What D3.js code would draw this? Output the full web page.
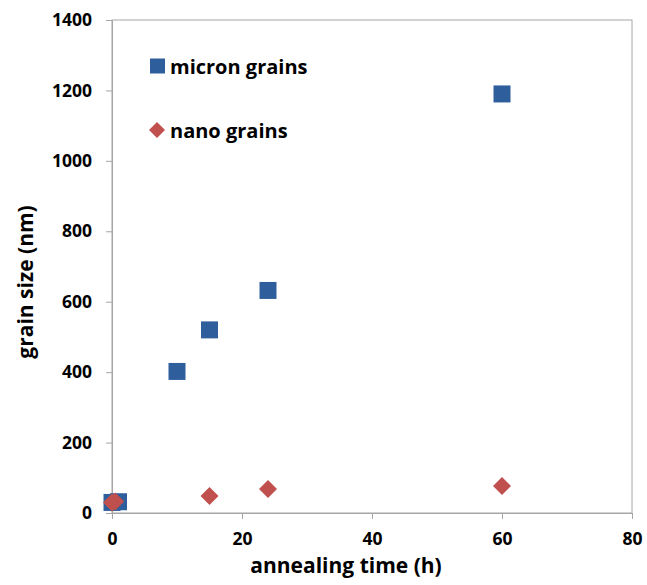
<!DOCTYPE html>
<html>
<head>
<meta charset="utf-8">
<script src="https://cdn.jsdelivr.net/npm/d3@7"></script>
<style>
  html, body { margin: 0; padding: 0; background: #fff; }
  svg text { font-family: "Open Sans", "Liberation Sans", sans-serif; font-weight: bold; fill: #000; }
</style>
</head>
<body>
<svg id="chart" width="647" height="585"></svg>
<script>
// Grain size vs annealing time
const micronTime = [0, 1, 10, 15, 24, 60];
const micronSize = [30, 32, 402, 520, 632, 1190];
const nanoTime = [0, 0.5, 15, 24, 60];
const nanoSize = [30, 33, 48, 68, 77];
const xTicks = [0, 20, 40, 60, 80];
const yTicks = [0, 200, 400, 600, 800, 1000, 1200, 1400];
const seriesNames = ["micron grains", "nano grains"];

const svg = d3.select("#chart");
const m = { left: 112, right: 15, top: 20, bottom: 72 };
const W = 647, H = 585;

const x = d3.scaleLinear().domain([0, 80]).range([m.left, W - m.right]);
const y = d3.scaleLinear().domain([0, 1400]).range([H - m.bottom, m.top]);

const axisColor = "#a6a6a6";

// plot frame
svg.append("rect")
  .attr("x", x(0)).attr("y", y(1400))
  .attr("width", x(80) - x(0)).attr("height", y(0) - y(1400))
  .attr("fill", "none").attr("stroke", axisColor).attr("stroke-width", 1);

const xAxis = svg.append("g")
  .attr("transform", `translate(0,${y(0)})`)
  .call(d3.axisBottom(x).tickValues(xTicks).tickSize(6).tickPadding(14).tickFormat(d3.format("d")));
const yAxis = svg.append("g")
  .attr("transform", `translate(${x(0)},0)`)
  .call(d3.axisLeft(y).tickValues(yTicks).tickSize(6).tickPadding(14).tickFormat(d3.format("d")));

[xAxis, yAxis].forEach(g => {
  g.select(".domain").attr("stroke", axisColor);
  g.selectAll(".tick line").attr("stroke", axisColor);
  g.selectAll(".tick text").style("font-size", "17.5px").style("font-family", "'Open Sans', sans-serif").style("font-weight", "bold");
});

// axis titles
svg.append("text")
  .attr("x", 346).attr("y", 573)
  .attr("text-anchor", "middle").style("font-size", "21px")
  .text("annealing time (h)");
svg.append("text")
  .attr("transform", `translate(33,282) rotate(-90)`)
  .attr("text-anchor", "middle").style("font-size", "21px")
  .text("grain size (nm)");

const blue = "#2f5e9c", red = "#c0504d";
const sq = d3.symbol().type(d3.symbolSquare).size(17 * 17);
// a square rotated 45° for the diamond markers
const diamond = r => `M0,${-r}L${r},0L0,${r}L${-r},0Z`;

const micron = micronTime.map((t, i) => ({ t, v: micronSize[i] }));
const nano = nanoTime.map((t, i) => ({ t, v: nanoSize[i] }));

svg.append("g").selectAll("path").data(micron).join("path")
  .attr("d", sq).attr("fill", blue)
  .attr("transform", d => `translate(${x(d.t)},${y(d.v)})`);
svg.append("g").selectAll("path").data(nano).join("path")
  .attr("d", diamond(9)).attr("fill", red)
  .attr("transform", d => `translate(${x(d.t)},${y(d.v)})`);

// legend
const leg = svg.append("g");
leg.append("path").attr("d", d3.symbol().type(d3.symbolSquare).size(15 * 15)).attr("fill", blue)
  .attr("transform", "translate(157.5,66)");
leg.append("text").attr("x", 170).attr("y", 74).style("font-size", "20px").text(seriesNames[0]);
leg.append("path").attr("d", diamond(8)).attr("fill", red)
  .attr("transform", "translate(157,130)");
leg.append("text").attr("x", 170).attr("y", 138).style("font-size", "20px").text(seriesNames[1]);
</script>
</body>
</html>
